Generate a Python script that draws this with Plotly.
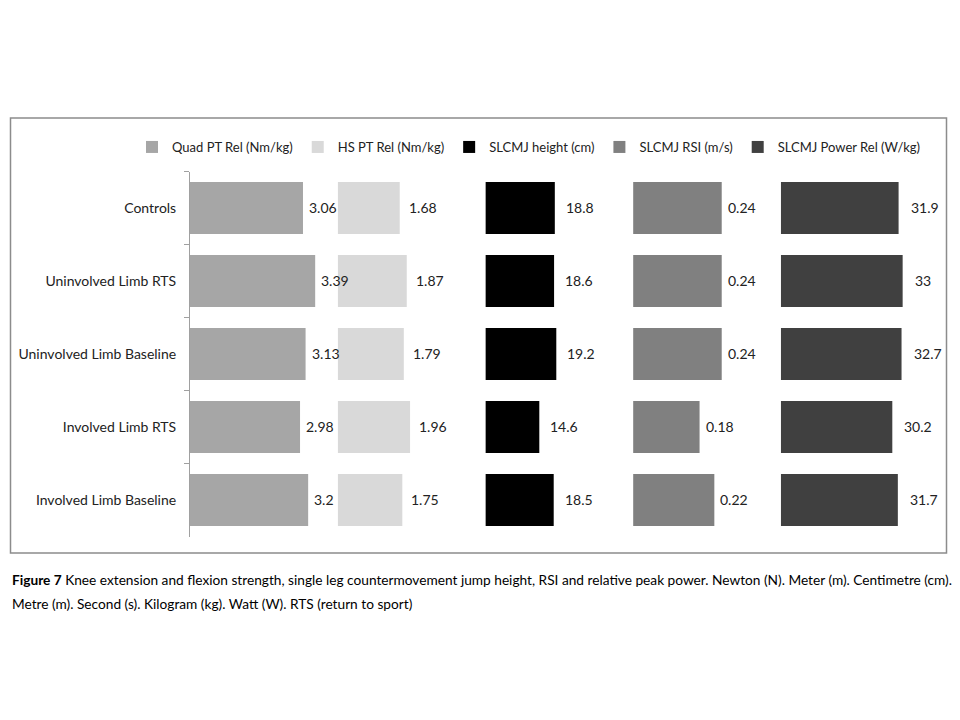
import plotly.graph_objects as go

categories = ["Controls", "Uninvolved Limb RTS", "Uninvolved Limb Baseline",
              "Involved Limb RTS", "Involved Limb Baseline"]
series_names = ["Quad PT Rel (Nm/kg)", "HS PT Rel (Nm/kg)", "SLCMJ height (cm)",
                "SLCMJ RSI (m/s)", "SLCMJ Power Rel (W/kg)"]
quad_pt_rel = [3.06, 3.39, 3.13, 2.98, 3.2]
hs_pt_rel = [1.68, 1.87, 1.79, 1.96, 1.75]
slcmj_height = [18.8, 18.6, 19.2, 14.6, 18.5]
slcmj_rsi = [0.24, 0.24, 0.24, 0.18, 0.22]
slcmj_power_rel = [31.9, 33, 32.7, 30.2, 31.7]
label_text = {
    0: ["3.06", "3.39", "3.13", "2.98", "3.2"],
    1: ["1.68", "1.87", "1.79", "1.96", "1.75"],
    2: ["18.8", "18.6", "19.2", "14.6", "18.5"],
    3: ["0.24", "0.24", "0.24", "0.18", "0.22"],
    4: ["31.9", "33", "32.7", "30.2", "31.7"],
}
caption_line1 = ("<b>Figure 7</b> Knee extension and flexion strength, single leg countermovement "
                 "jump height, RSI and relative peak power. Newton (N). Meter (m). Centimetre (cm).")
caption_line2 = "Metre (m). Second (s). Kilogram (kg). Watt (W). RTS (return to sport)"

all_values = [quad_pt_rel, hs_pt_rel, slcmj_height, slcmj_rsi, slcmj_power_rel]
colors = ["#A6A6A6", "#D9D9D9", "#000000", "#808080", "#404040"]
ranges = [[0, 4], [0, 4], [0, 40], [0, 0.4], [0, 40]]
label_gaps = [4, 7, 9, 4, 10]

# page body has an 8px margin; figure is placed at (8, 8) in the window
OFF = 8
W, H = 944, 704
FONT = "Lato"
TXT = "#222222"


def px(x):
    return (x - OFF) / W


def py(y):
    return 1 - (y - OFF) / H


fig = go.Figure()
panel_start, panel_w = 190.0, 147.7

for k in range(5):
    xa = "x" if k == 0 else f"x{k+1}"
    fig.add_trace(go.Bar(
        y=categories, x=all_values[k], orientation="h",
        name=series_names[k], marker=dict(color=colors[k], line=dict(width=0)),
        xaxis=xa, yaxis="y", hoverinfo="x+y",
    ))
    axkey = "xaxis" if k == 0 else f"xaxis{k+1}"
    fig.layout[axkey] = dict(domain=[px(panel_start + panel_w * k),
                                     px(panel_start + panel_w * (k + 1))],
                             range=ranges[k], visible=False,
                             anchor="y", fixedrange=True)
    for cat, v, t in zip(categories, all_values[k], label_text[k]):
        fig.add_annotation(x=v, y=cat, xref=xa, yref="y", text=t,
                           showarrow=False, xanchor="left", yanchor="middle",
                           xshift=label_gaps[k],
                           font=dict(family=FONT, size=14, color=TXT))

fig.update_layout(
    width=W, height=H,
    margin=dict(l=0, r=0, t=0, b=0, autoexpand=False),
    paper_bgcolor="white", plot_bgcolor="white",
    bargap=0.29,
    showlegend=True,
    legend=dict(orientation="h", x=px(132), y=py(147), xanchor="left",
                yanchor="middle", font=dict(family=FONT, size=13, color=TXT),
                traceorder="normal", itemclick=False, itemdoubleclick=False),
    yaxis=dict(domain=[py(536.5), py(171.5)], anchor="x",
               categoryorder="array", categoryarray=categories,
               autorange="reversed", showline=True, linecolor="#A0A0A0",
               linewidth=1, ticks="outside", tickson="boundaries", ticklen=5,
               tickcolor="#A0A0A0", showgrid=False, zeroline=False,
               ticklabelstandoff=10, automargin=False,
               tickfont=dict(family=FONT, size=14, color=TXT), fixedrange=True),
)

# frame around chart
fig.add_shape(type="rect", xref="paper", yref="paper",
              x0=px(10.5), x1=px(946.5), y0=py(553), y1=py(118),
              line=dict(color="#8C8C8C", width=1.5), fillcolor="rgba(0,0,0,0)")

for line, yc in [(caption_line1, 579), (caption_line2, 603)]:
    fig.add_annotation(x=px(10), y=py(yc), xref="paper", yref="paper", text=line,
                       showarrow=False, xanchor="left", yanchor="middle", align="left",
                       font=dict(family=FONT, size=13.7, color="#000000"))

fig.write_html("out.html")
